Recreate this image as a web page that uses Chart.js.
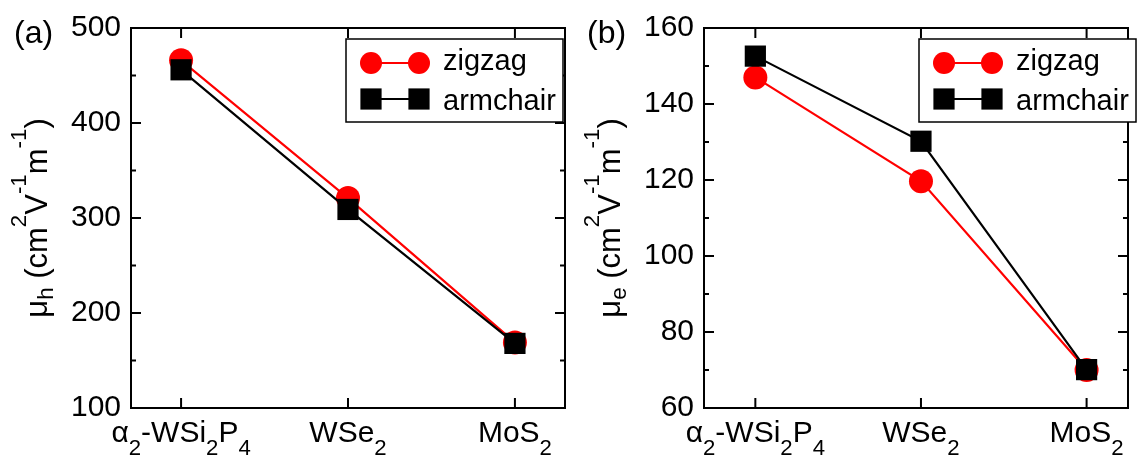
<!DOCTYPE html>
<html>
<head>
<meta charset="utf-8">
<title>Carrier mobility</title>
<script src="https://cdn.jsdelivr.net/npm/chart.js@4/dist/chart.umd.min.js"></script>
<style>
  html, body { margin: 0; padding: 0; background: #fff; }
  #wrap { position: relative; width: 1143px; height: 458px; overflow: hidden; }
  #wrap canvas { position: absolute; top: 0; }
  #chartA { left: 0; }
  #chartB { left: 580px; }
</style>
</head>
<body>
<div id="wrap">
  <canvas id="chartA" width="580" height="458"></canvas>
  <canvas id="chartB" width="563" height="458"></canvas>
</div>
<script>
// --------------------------------------------
// Data ( _{..} = subscript, ^{..} = superscript )
// --------------------------------------------
var materials = ['α_{2}-WSi_{2}P_{4}', 'WSe_{2}', 'MoS_{2}'];
var seriesNames = ['zigzag', 'armchair'];

// (a) hole mobility
var holeZigzag = [466, 321, 169];
var holeArmchair = [456, 309, 168];
var holeTicks = [100, 200, 300, 400, 500];

// (b) electron mobility
var elecZigzag = [147, 119.7, 70];
var elecArmchair = [152.6, 130.2, 70.1];
var elecTicks = [60, 80, 100, 120, 140, 160];

var FONT = '"Liberation Sans", Arial, Helvetica, sans-serif';

// split a string into normal / sub / sup runs
function parseRich(s) {
    var out = [];
    var i = 0;
    while (i < s.length) {
        if ((s[i] === '_' || s[i] === '^') && s[i + 1] === '{') {
            var end = s.indexOf('}', i);
            out.push({ t: s.slice(i + 2, end), mode: s[i] === '_' ? 'sub' : 'sup' });
            i = end + 1;
        } else {
            var j = i;
            while (j < s.length && !((s[j] === '_' || s[j] === '^') && s[j + 1] === '{')) j++;
            out.push({ t: s.slice(i, j), mode: 'n' });
            i = j;
        }
    }
    return out;
}

function drawRich(ctx, str, x, y, size, opt) {
    var parts = parseRich(str);
    var small = size * opt.ratio;
    var total = 0;
    parts.forEach(function(p) {
        ctx.font = (p.mode === 'n' ? size : small) + 'px ' + FONT;
        p.w = ctx.measureText(p.t).width;
        total += p.w;
    });
    var cx = opt.align === 'center' ? x - total / 2 : x;
    ctx.textAlign = 'left';
    ctx.textBaseline = 'alphabetic';
    parts.forEach(function(p) {
        ctx.font = (p.mode === 'n' ? size : small) + 'px ' + FONT;
        var dy = p.mode === 'sub' ? opt.subDy : (p.mode === 'sup' ? opt.supDy : 0);
        ctx.fillText(p.t, cx, y + dy);
        cx += p.w;
    });
}

// frame, inward ticks, category labels, axis title, panel tag and legend
var decorPlugin = {
    id: 'decor',
    afterDraw: function(chart, args, o) {
        var ctx = chart.ctx;
        var a = chart.chartArea;
        var xs = chart.scales.x;
        var ys = chart.scales.y;
        ctx.save();
        ctx.strokeStyle = '#000';
        ctx.fillStyle = '#000';
        ctx.lineWidth = 2;

        // y ticks (major + minor halfway), both sides
        var yt = ys.ticks.map(function(t) { return t.value; });
        ctx.beginPath();
        for (var i = 0; i < yt.length; i++) {
            var py = ys.getPixelForValue(yt[i]);
            ctx.moveTo(a.left, py); ctx.lineTo(a.left + 10, py);
            ctx.moveTo(a.right, py); ctx.lineTo(a.right - 10, py);
            if (i < yt.length - 1) {
                var my = ys.getPixelForValue((yt[i] + yt[i + 1]) / 2);
                ctx.moveTo(a.left, my); ctx.lineTo(a.left + 5, my);
                ctx.moveTo(a.right, my); ctx.lineTo(a.right - 5, my);
            }
        }
        // x ticks at categories, bottom + top
        for (var k = 0; k < materials.length; k++) {
            var px = xs.getPixelForValue(k);
            ctx.moveTo(px, a.bottom); ctx.lineTo(px, a.bottom - 10);
            ctx.moveTo(px, a.top); ctx.lineTo(px, a.top + 10);
        }
        ctx.stroke();
        ctx.strokeRect(a.left, a.top, a.right - a.left, a.bottom - a.top);

        // category labels
        for (var c = 0; c < materials.length; c++) {
            drawRich(ctx, materials[c], xs.getPixelForValue(c), a.bottom + 34, 30,
                { align: 'center', ratio: 0.74, subDy: 13, supDy: -12 });
        }

        // y title
        ctx.save();
        ctx.translate(a.left - 84, (a.top + a.bottom) / 2);
        ctx.rotate(-Math.PI / 2);
        drawRich(ctx, o.yTitle, 0, 0, 31, { align: 'center', ratio: 0.72, subDy: 6, supDy: -21 });
        ctx.restore();

        // panel tag
        ctx.font = '32px ' + FONT;
        ctx.textAlign = 'left';
        ctx.textBaseline = 'alphabetic';
        ctx.fillText(o.tag, a.left - 117, 43);

        // legend
        var lx = a.left + 215, ly = 39;
        ctx.fillStyle = '#fff';
        ctx.fillRect(lx, ly, 217, 83);
        ctx.lineWidth = 1.5;
        ctx.strokeRect(lx, ly, 217, 83);
        var rows = [{ cy: ly + 24, base: ly + 31 }, { cy: ly + 60, base: ly + 71 }];
        var metas = [chart.data.datasets[0], chart.data.datasets[1]];
        for (var r = 0; r < metas.length; r++) {
            var ds = metas[r];
            ctx.strokeStyle = ds.borderColor;
            ctx.lineWidth = 2;
            ctx.beginPath();
            ctx.moveTo(lx + 25, rows[r].cy);
            ctx.lineTo(lx + 73, rows[r].cy);
            ctx.stroke();
            ctx.fillStyle = ds.backgroundColor;
            [lx + 25, lx + 73].forEach(function(mx) {
                Chart.helpers.drawPoint(ctx, { pointStyle: ds.pointStyle, radius: ds.pointRadius - (ds.pointStyle === 'circle' ? 1 : 0), rotation: 0, borderWidth: 0 }, mx, rows[r].cy);
            });
            ctx.fillStyle = '#000';
            ctx.font = '29px ' + FONT;
            ctx.textAlign = 'left';
            ctx.fillText(ds.label, lx + 97, rows[r].base);
        }
        ctx.restore();
    }
};

function toPoints(vals) {
    return vals.map(function(v, i) { return { x: i, y: v }; });
}

function makePanel(id, tag, yTitle, zig, arm, ticks, xMin, xMax, yWidth, padRight) {
    return new Chart(document.getElementById(id), {
        type: 'line',
        data: {
            datasets: [
                { label: seriesNames[0], data: toPoints(zig), borderColor: '#ff0000', backgroundColor: '#ff0000',
                  borderWidth: 2.2, pointStyle: 'circle', pointRadius: 12, pointBorderWidth: 0, order: 2 },
                { label: seriesNames[1], data: toPoints(arm), borderColor: '#000000', backgroundColor: '#000000',
                  borderWidth: 2.2, pointStyle: 'rect', pointRadius: 15, pointBorderWidth: 0, order: 1 }
            ]
        },
        options: {
            responsive: false,
            animation: false,
            devicePixelRatio: 1,
            clip: false,
            layout: { padding: { left: 0, right: padRight, top: 25, bottom: 50 } },
            scales: {
                x: { type: 'linear', min: xMin, max: xMax, display: false },
                y: {
                    type: 'linear',
                    min: ticks[0],
                    max: ticks[ticks.length - 1],
                    afterBuildTicks: function(scale) {
                        scale.ticks = ticks.map(function(v) { return { value: v }; });
                    },
                    afterFit: function(scale) { scale.width = yWidth; },
                    grid: { display: false, drawTicks: false },
                    border: { display: false },
                    ticks: { color: '#000', padding: 10, font: { family: FONT, size: 30 } }
                }
            },
            plugins: {
                legend: { display: false },
                tooltip: { enabled: false },
                decor: { tag: tag, yTitle: yTitle }
            }
        },
        plugins: [decorPlugin]
    });
}

makePanel('chartA', '(a)', 'μ_{h} (cm^{2}V^{-1}m^{-1})', holeZigzag, holeArmchair, holeTicks, -0.3, 2.3, 131, 7);
makePanel('chartB', '(b)', 'μ_{e} (cm^{2}V^{-1}m^{-1})', elecZigzag, elecArmchair, elecTicks, -0.31, 2.25, 124, 5);
</script>
</body>
</html>
